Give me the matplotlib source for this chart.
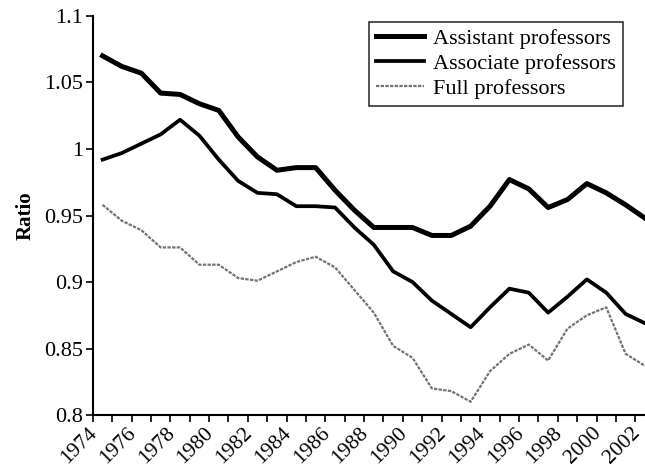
import numpy as np
import matplotlib
matplotlib.use("Agg")
import matplotlib.pyplot as plt
import matplotlib.transforms as mtransforms

# --- data (ratio, one value per year) ---
years = np.arange(1974, 2003)

assistant = [1.070, 1.062, 1.057, 1.042, 1.041, 1.034, 1.029, 1.009, 0.994, 0.984,
             0.986, 0.986, 0.969, 0.954, 0.941, 0.941, 0.941, 0.935, 0.935, 0.942,
             0.957, 0.977, 0.970, 0.956, 0.962, 0.974, 0.967, 0.958, 0.948]

associate = [0.992, 0.997, 1.004, 1.011, 1.022, 1.010, 0.992, 0.976, 0.967, 0.966,
             0.957, 0.957, 0.956, 0.941, 0.928, 0.908, 0.900, 0.886, 0.876, 0.866,
             0.881, 0.895, 0.892, 0.877, 0.889, 0.902, 0.892, 0.876, 0.869]

full = [0.958, 0.946, 0.939, 0.926, 0.926, 0.913, 0.913, 0.903, 0.901, 0.908,
        0.915, 0.919, 0.911, 0.894, 0.877, 0.852, 0.843, 0.820, 0.818, 0.810,
        0.833, 0.846, 0.853, 0.841, 0.865, 0.875, 0.881, 0.846, 0.837]

tick_years = np.arange(1974, 2003, 2)

plt.rcParams['font.family'] = ['Liberation Serif', 'DejaVu Serif']

fig = plt.figure(figsize=(6.45, 4.69), dpi=100)
ax = fig.add_axes([0.144, 0.115, 0.856, 0.851])

# points sit in the middle of each year slot
xs = years + 0.5
ax.plot(xs, assistant, color='black', lw=3.6, solid_joinstyle='round',
        label='Assistant professors')
ax.plot(xs, associate, color='black', lw=2.7, solid_joinstyle='round',
        label='Associate professors')
ax.plot(xs, full, color='0.45', lw=1.6, linestyle=(0, (1.5, 0.6)),
        label='Full professors')

ax.set_xlim(1974, 2002.5)
ax.set_ylim(0.8, 1.1)
ax.set_yticks([0.8, 0.85, 0.9, 0.95, 1.0, 1.05, 1.1])
ax.set_yticklabels(['0.8', '0.85', '0.9', '0.95', '1', '1.05', '1.1'])
ax.set_xticks(tick_years)
ax.set_xticks(years, minor=True)
ax.set_xticklabels([str(y) for y in tick_years], rotation=45,
                   ha='right', rotation_mode='anchor')

ax.tick_params(axis='y', labelsize=16, direction='out', length=5, width=1.2, pad=2)
ax.tick_params(axis='x', labelsize=15.5, direction='out', length=5, width=1.2, pad=1)
ax.tick_params(axis='x', which='minor', length=5, width=1.2)
ax.spines['top'].set_visible(False)
ax.spines['right'].set_visible(False)
ax.spines['left'].set_linewidth(1.5)
ax.spines['bottom'].set_linewidth(1.5)

# nudge the rotated year labels a few pixels left so 2002 stays inside
shift = mtransforms.ScaledTranslation(-5 / 100, 0, fig.dpi_scale_trans)
for lbl in ax.get_xticklabels():
    lbl.set_transform(lbl.get_transform() + shift)

ax.set_ylabel('Ratio', fontsize=15, fontweight='bold', labelpad=6)

leg = ax.legend(loc='upper right', fontsize=16, frameon=True, fancybox=False,
                edgecolor='black', handlelength=2.2, handletextpad=0.4,
                borderpad=0.3, labelspacing=0.2, borderaxespad=0,
                bbox_to_anchor=(0.96, 0.985))
leg.get_frame().set_linewidth(1.2)

fig.savefig('out.png', dpi=100)
